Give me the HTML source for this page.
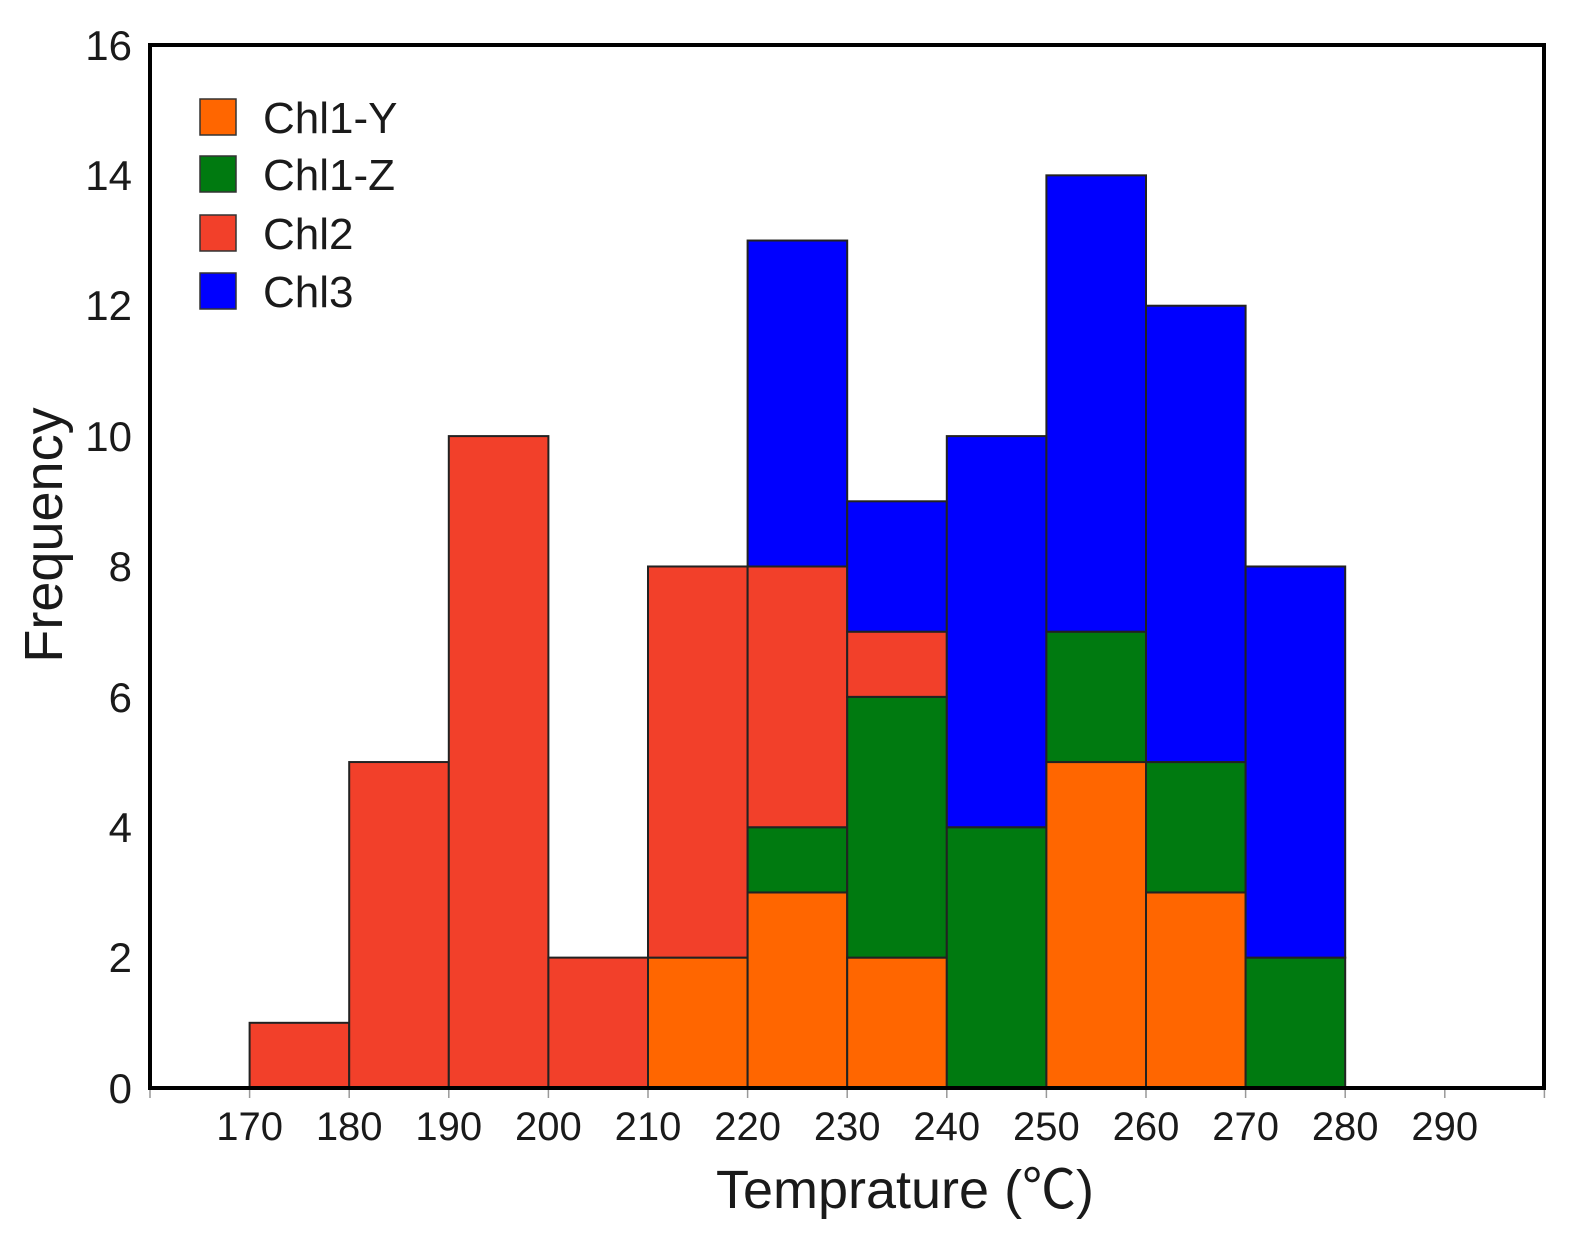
<!DOCTYPE html>
<html><head><meta charset="utf-8"><style>html,body{margin:0;padding:0;background:#fff;overflow:hidden;width:1577px;height:1250px}svg{display:block}</style></head>
<body>
<svg id="s" width="1577" height="1250" xmlns="http://www.w3.org/2000/svg" font-family="Liberation Sans, Noto Sans CJK SC, sans-serif" fill="#1a1a1a">
<g id="bars"></g>
<rect x="150" y="45" width="1394" height="1043" fill="none" stroke="#000" stroke-width="4"/>
<g font-size="42" text-anchor="end">
<text x="132" y="1103">0</text><text x="132" y="972">2</text><text x="132" y="842">4</text><text x="132" y="712">6</text><text x="132" y="581">8</text><text x="132" y="451">10</text><text x="132" y="320">12</text><text x="132" y="190">14</text><text x="132" y="60">16</text>
</g>
<g id="xt" font-size="40" text-anchor="middle">
<text x="249.6" y="1140">170</text><text x="349.2" y="1140">180</text><text x="448.8" y="1140">190</text><text x="548.4" y="1140">200</text><text x="648" y="1140">210</text><text x="747.6" y="1140">220</text><text x="847.2" y="1140">230</text><text x="946.8" y="1140">240</text><text x="1046.4" y="1140">250</text><text x="1146" y="1140">260</text><text x="1245.6" y="1140">270</text><text x="1345.2" y="1140">280</text><text x="1444.8" y="1140">290</text>
</g>
<text x="905" y="1208" font-size="54" text-anchor="middle">Temprature (℃)</text>
<text transform="translate(62,535) rotate(-90)" font-size="54" text-anchor="middle">Frequency</text>
<g stroke="#333" stroke-width="1.5">
<rect x="200" y="99" width="36" height="36" fill="#ff6600"/>
<rect x="200" y="156" width="36" height="36" fill="#007a10"/>
<rect x="200" y="215" width="36" height="36" fill="#f2402a"/>
<rect x="200" y="273" width="36" height="36" fill="#0000ff"/>
</g>
<g font-size="44"><text x="263" y="133">Chl1-Y</text><text x="263" y="190">Chl1-Z</text><text x="263" y="249">Chl2</text><text x="263" y="307">Chl3</text></g>
</svg>
<script>
var Y=v=>1088-65.19*v,X=t=>150+(t-160)*9.96;
var C={o:"#ff6600",g:"#007a10",r:"#f2402a",b:"#0000ff"};
var D=[[170,[["r",0,1]]],[180,[["r",0,5]]],[190,[["r",0,10]]],[200,[["r",0,2]]],
[210,[["o",0,2],["r",2,8]]],[220,[["o",0,3],["g",3,4],["r",4,8],["b",8,13]]],
[230,[["o",0,2],["g",2,6],["r",6,7],["b",7,9]]],[240,[["g",0,4],["b",4,10]]],
[250,[["o",0,5],["g",5,7],["b",7,14]]],[260,[["o",0,3],["g",3,5],["b",5,12]]],[270,[["g",0,2],["b",2,8]]]];
var h="";D.forEach(d=>d[1].forEach(s=>{h+='<rect x="'+X(d[0])+'" y="'+Y(s[2])+'" width="'+(X(d[0]+10)-X(d[0]))+'" height="'+(Y(s[1])-Y(s[2]))+'" fill="'+C[s[0]]+'" stroke="#222" stroke-width="2"/>';}));
for(var v=160;v<=300;v+=10){h+='<line x1="'+X(v)+'" y1="1090" x2="'+X(v)+'" y2="1098" stroke="#999" stroke-width="1.5"/>';}
document.getElementById("bars").innerHTML=h;
</script>
</body></html>
